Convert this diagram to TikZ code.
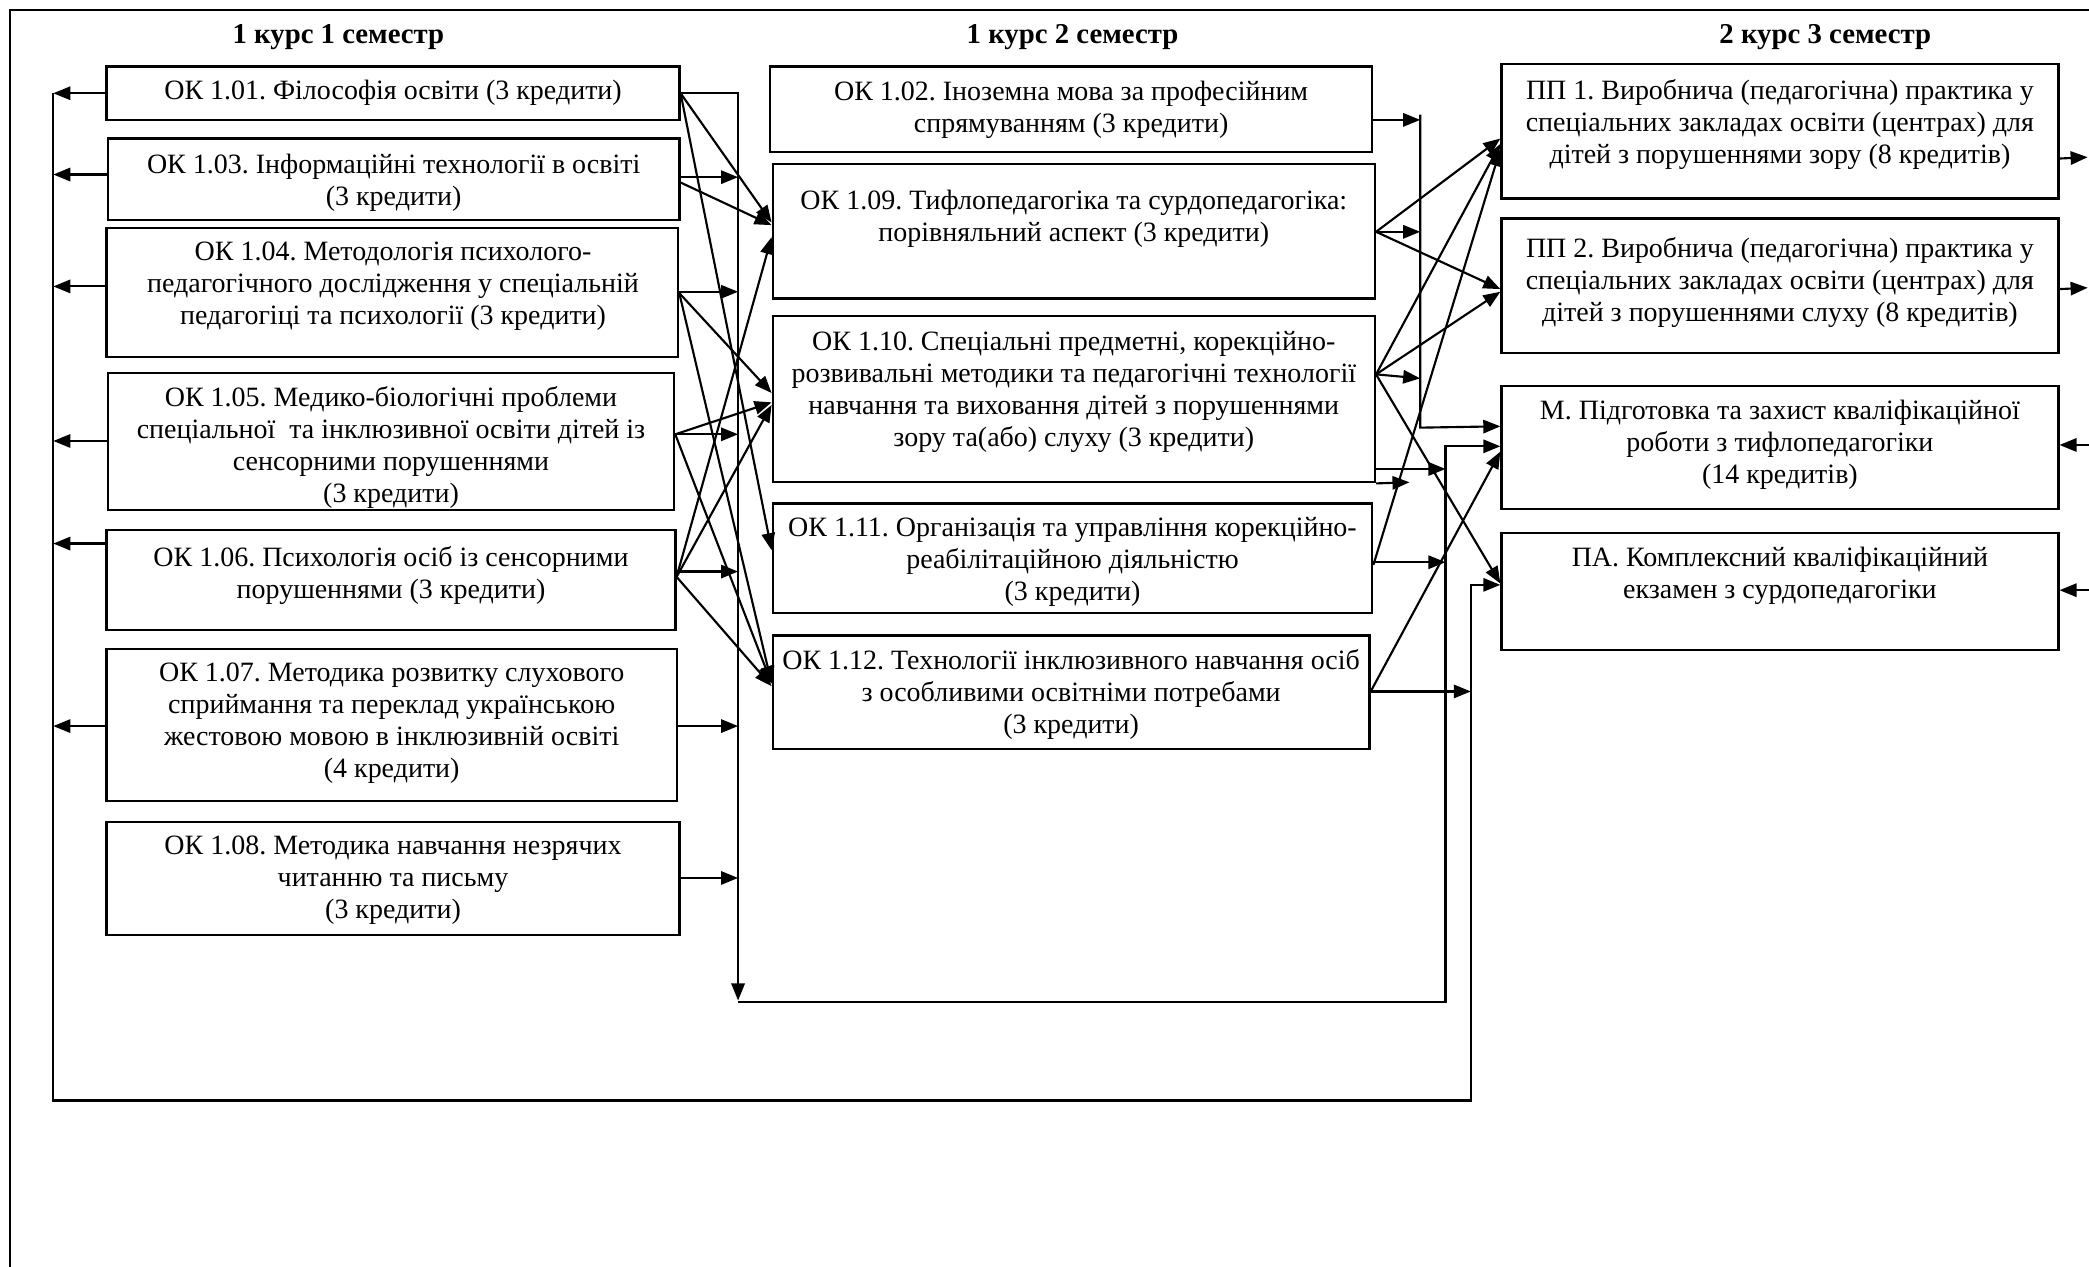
\documentclass[tikz,border=0pt]{standalone}
\usepackage{fontspec}
\setmainfont{Liberation Serif}
\usetikzlibrary{arrows.meta}
\frenchspacing
\newcommand\mkbox[5]{\node[box, minimum width={((#4)-(#2))*0.5pt}, minimum height={((#5)-(#3))*0.5pt}] (#1) at ({((#2)+(#4))/2},{((#3)+(#5))/2}) {};}
\begin{document}
\begin{tikzpicture}[x=0.5pt,y=-0.5pt,
  box/.style={draw, line width=0.85pt, inner sep=0pt},
  txt/.style={font=\fontsize{10.5}{12}\selectfont, align=center, inner sep=0pt},
  hd/.style={font=\fontsize{10.8}{13}\selectfont\bfseries, inner sep=0pt},
  con/.style={line width=0.8pt},
  arr/.style={con, -{Triangle[length=6.4pt,width=5pt]}},
]
\useasboundingbox (0,0) rectangle (1568,951);
% frame
\draw[line width=1.1pt] (7.5,951) -- (7.5,7.5) -- (1568,7.5);
% headers
\node[hd] (h1) at (254,28) {1 курс 1 семестр};
\node[hd] (h2) at (805,28) {1 курс 2 семестр};
\node[hd] (h3) at (1370,28) {2 курс 3 семестр};
% column 1
\node[txt] (t101) at (295,70) {ОК 1.01. Філософія освіти (3 кредити)};
\node[txt] (t103) at (295.5,137) {ОК 1.03. Інформаційні технології в освіті\\(3 кредити)};
\node[txt] (t104) at (295,214.5) {ОК 1.04. Методологія психолого-\\педагогічного дослідження у спеціальній\\педагогіці та психології (3 кредити)};
\node[txt] (t105) at (293.5,336) {ОК 1.05. Медико-біологічні проблеми\\спеціальної~ та інклюзивної освіти дітей із\\сенсорними порушеннями\\(3 кредити)};
\node[txt] (t106) at (293.5,432) {ОК 1.06. Психологія осіб із сенсорними\\порушеннями (3 кредити)};
\node[txt] (t107) at (294,542.5) {ОК 1.07. Методика розвитку слухового\\сприймання та переклад українською\\жестовою мовою в інклюзивній освіті\\(4 кредити)};
\node[txt] (t108) at (295,661) {ОК 1.08. Методика навчання незрячих\\читанню та письму\\(3 кредити)};
\mkbox{ok101}{80}{50}{510}{90}
\mkbox{ok103}{81}{104}{510}{165}
\mkbox{ok104}{80}{171}{509}{268}
\mkbox{ok105}{81}{280}{506}{383}
\mkbox{ok106}{80}{398}{507}{473}
\mkbox{ok107}{80}{487}{508}{601}
\mkbox{ok108}{80}{617}{510}{702}
% column 2
\node[txt] (t102) at (804,82.5) {ОК 1.02. Іноземна мова за професійним\\спрямуванням (3 кредити)};
\node[txt] (t109) at (806,164) {ОК 1.09. Тифлопедагогіка та сурдопедагогіка:\\порівняльний аспект (3 кредити)};
\node[txt] (t110) at (806,294) {ОК 1.10. Спеціальні предметні, корекційно-\\розвивальні методики та педагогічні технології\\навчання та виховання дітей з порушеннями\\зору та(або) слуху (3 кредити)};
\node[txt] (t111) at (805,422) {ОК 1.11. Організація та управління корекційно-\\реабілітаційною діяльністю\\(3 кредити)};
\node[txt] (t112) at (804,521) {ОК 1.12. Технології інклюзивного навчання осіб\\з особливими освітніми потребами\\(3 кредити)};
\mkbox{ok102}{578}{50}{1030}{114}
\mkbox{ok109}{580}{123}{1032}{224}
\mkbox{ok110}{580}{237}{1032}{362}
\mkbox{ok111}{580}{378}{1030}{460}
\mkbox{ok112}{580}{477}{1028}{562}
% column 3
\node[txt] (tpp1) at (1336,93.5) {ПП 1. Виробнича (педагогічна) практика у\\спеціальних закладах освіти (центрах) для\\дітей з порушеннями зору (8 кредитів)};
\node[txt] (tpp2) at (1336,212) {ПП 2. Виробнича (педагогічна) практика у\\спеціальних закладах освіти (центрах) для\\дітей з порушеннями слуху (8 кредитів)};
\node[txt] (tm) at (1336,333.5) {М. Підготовка та захист кваліфікаційної\\роботи з тифлопедагогіки\\(14 кредитів)};
\node[txt] (tpa) at (1336,432) {ПА. Комплексний кваліфікаційний\\екзамен з сурдопедагогіки};
\mkbox{pp1}{1127}{48}{1545}{149}
\mkbox{pp2}{1127}{164}{1545}{265}
\mkbox{m}{1127}{290}{1545}{382}
\mkbox{pa}{1127}{400}{1545}{488}
% free ends
\coordinate (lbT) at (40,70);
\coordinate (lbB) at (40,826);
\coordinate (rbB) at (1104,826);
\coordinate (cbT) at (554,70);
\coordinate (cbB) at (554,751);
\coordinate (bbL) at (554,752);
\coordinate (bbR) at (1085,752);
\coordinate (b2T) at (1066,86);
\coordinate (b2B) at (1066,321);
\coordinate (c10b) at (1058,362);
\coordinate (r1) at (1567,118);
\coordinate (r2) at (1567,216);
\coordinate (r3) at (1568,334);
\coordinate (r4) at (1568,443);
% left bus
\draw[arr] (lbT) -- (lbB) -- (rbB) -- (rbB |- 0,439) -- (pa.west |- 0,439);
\draw[arr] (ok101.west) -- (lbT);
\draw[arr] (ok103.west |- 0,131) -- (lbT |- 0,131);
\draw[arr] (ok104.west |- 0,215) -- (lbT |- 0,215);
\draw[arr] (ok105.west |- 0,331) -- (lbT |- 0,331);
\draw[arr] (ok106.west |- 0,408) -- (lbT |- 0,408);
\draw[arr] (ok107.west |- 0,545) -- (lbT |- 0,545);
% centre bus
\draw[arr] (ok101.east) -- (cbT) -- (cbB);
\draw[arr] (ok103.east |- 0,133) -- (cbT |- 0,133);
\draw[arr] (ok104.east |- 0,219) -- (cbT |- 0,219);
\draw[arr] (ok105.east |- 0,326) -- (cbT |- 0,326);
\draw[arr] (ok106.east |- 0,429) -- (cbT |- 0,429);
\draw[arr] (ok107.east |- 0,545) -- (cbT |- 0,545);
\draw[arr] (ok108.east |- 0,659) -- (cbT |- 0,659);
\draw[arr] (bbL) -- (bbR) -- (bbR |- 0,335) -- (m.west |- 0,335);
% column 1 -> column 2
\draw[arr] (ok101.east) -- (ok109.west |- 0,167);
\draw[arr] (ok101.east) -- (ok111.west |- 0,413);
\draw[arr] (ok103.east |- 0,137) -- (ok109.west |- 0,169);
\draw[arr] (ok104.east |- 0,220) -- (ok110.west |- 0,295);
\draw[arr] (ok104.east |- 0,220) -- (ok112.west |- 0,513);
\draw[arr] (ok105.east |- 0,326) -- (ok110.west |- 0,302);
\draw[arr] (ok105.east |- 0,326) -- (ok112.west |- 0,513);
\draw[arr] (ok106.east |- 0,433) -- (ok109.west |- 0,178);
\draw[arr] (ok106.east |- 0,433) -- (ok110.west |- 0,304);
\draw[arr] (ok106.east |- 0,433) -- (ok112.west |- 0,515);
% column 2 -> column 3
\draw[arr] (ok102.east |- 0,90) -- (b2T |- 0,90);
\draw[arr] (b2T) -- (b2B) -- (m.west |- 0,320);
\draw[arr] (ok109.east |- 0,174) -- (b2T |- 0,174);
\draw[arr] (ok109.east |- 0,174) -- (pp1.west |- 0,104);
\draw[arr] (ok109.east |- 0,174) -- (pp2.west |- 0,217);
\draw[arr] (ok110.east |- 0,281) -- (b2T |- 0,284);
\draw[arr] (ok110.east |- 0,281) -- (pp1.west |- 0,108);
\draw[arr] (ok110.east |- 0,281) -- (pp2.west |- 0,219);
\draw[arr] (ok110.east |- 0,281) -- (pa.west |- 0,438);
\draw[arr] (ok110.east |- 0,352) -- (bbR |- 0,352);
\draw[arr] (ok110.south east) -- (c10b);
\draw[arr] (ok111.east |- 0,422) -- (bbR |- 0,422);
\draw[arr] (ok111.east |- 0,424) -- (pp1.west |- 0,112);
\draw[arr] (ok112.east |- 0,519) -- (m.west |- 0,339);
\draw[arr] (ok112.east |- 0,519) -- (rbB |- 0,519);
% right side
\draw[arr] (pp1.east |- 0,119) -- (r1);
\draw[arr] (pp2.east |- 0,217) -- (r2);
\draw[arr] (r3) -- (m.east |- 0,334);
\draw[arr] (r4) -- (pa.east |- 0,443);
\end{tikzpicture}
\end{document}
